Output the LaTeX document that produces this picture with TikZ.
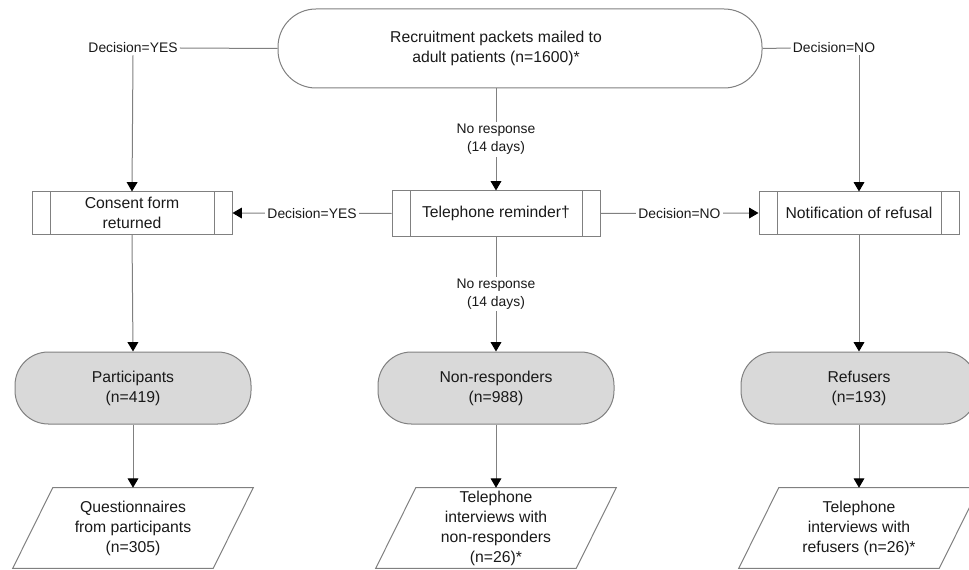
\documentclass[tikz,border=0pt]{standalone}
\usepackage{fontspec}
\setmainfont{Liberation Sans}
\usetikzlibrary{positioning,arrows.meta}
\definecolor{linegray}{HTML}{808080}
\definecolor{fillgray}{HTML}{D9D9D9}
\tikzset{
  line/.style={draw=linegray, line width=0.75pt},
  arr/.style={line, -{Triangle[width=8pt,length=7pt,color=black]}},
  boxtext/.style={font=\fontsize{11.8}{15}\selectfont, align=center, text=black!90},
  edgelabel/.style={fill=white, inner sep=1.5pt, font=\fontsize{10.4}{13.7}\selectfont, align=center, text=black!90},
  terminal/.style={rectangle, line, boxtext},
  stadium/.style={terminal, rounded corners=25pt, fill=fillgray, minimum width=177pt, minimum height=54pt},
  procbox/.style={rectangle, line, boxtext, minimum height=31.5pt,
    path picture={\draw[linegray, line width=0.75pt]
      ([xshift=13.5pt]path picture bounding box.north west) -- ([xshift=13.5pt]path picture bounding box.south west)
      ([xshift=-13.5pt]path picture bounding box.north east) -- ([xshift=-13.5pt]path picture bounding box.south east);}},
  para/.style={boxtext, inner sep=0pt, minimum width=150pt, minimum height=60pt,
    append after command={\pgfextra{\draw[line]
      ([xshift=15pt]\tikzlastnode.north west) -- ([xshift=15pt]\tikzlastnode.north east) --
      ([xshift=-15pt]\tikzlastnode.south east) -- ([xshift=-15pt]\tikzlastnode.south west) -- cycle;}}}
}
\begin{document}
\begin{tikzpicture}[x=0.75pt, y=-0.75pt]
\useasboundingbox (0,0) rectangle (969,570);
\node[terminal, rounded corners=28.5pt, minimum width=363pt, minimum height=59.25pt,
  label={[boxtext, xshift=-18pt]center:{Recruitment packets mailed to\\adult patients (n=1600)*}}] (mailed) at (520,48.5) {};
\node[edgelabel] (yestop) at (133,48) {Decision=YES};
\node[edgelabel] (notop) at (834,48) {Decision=NO};

\node[procbox, minimum width=150pt] (consent) at (132,213) {Consent form\\returned};
\node[procbox, minimum width=156pt, minimum height=33.75pt] (reminder) at (496,213.5) {Telephone reminder†};
\node[procbox, minimum width=150pt] (refusal) at (859,213) {Notification of refusal};

\node[stadium] (partic) at (133,388) {Participants\\(n=419)};
\node[stadium] (nonresp) at (496,388) {Non-responders\\(n=988)};
\node[stadium] (refusers) at (859,388) {Refusers\\(n=193)};

\node[para] (quest) at (133,528) {Questionnaires\\from participants\\(n=305)};
\node[para] (telnon) at (496,528) {Telephone\\interviews with\\non-responders\\(n=26)*};
\node[para] (telref) at (859,528) {Telephone\\interviews with\\refusers (n=26)*};

\draw[line] (mailed.west) -- (yestop.east);
\draw[arr] (yestop.south) -- (consent.north);
\draw[line] (mailed.east) -- (notop.west);
\draw[arr] (notop.south -| refusal.north) -- (refusal.north);
\draw[arr] (mailed.south -| reminder.north) -- node[edgelabel]{No response\\(14 days)} (reminder.north);
\draw[arr] (reminder.west) -- node[edgelabel]{Decision=YES} (consent.east);
\draw[arr] (reminder.east) -- node[edgelabel]{Decision=NO} (refusal.west);
\draw[arr] (reminder.south) -- node[edgelabel]{No response\\(14 days)} (nonresp.north);
\draw[arr] (consent.south) -- (partic.north);
\draw[arr] (refusal.south) -- (refusers.north);
\draw[arr] (partic.south) -- (quest.north);
\draw[arr] (nonresp.south) -- (telnon.north);
\draw[arr] (refusers.south) -- (telref.north);
\end{tikzpicture}
\end{document}
